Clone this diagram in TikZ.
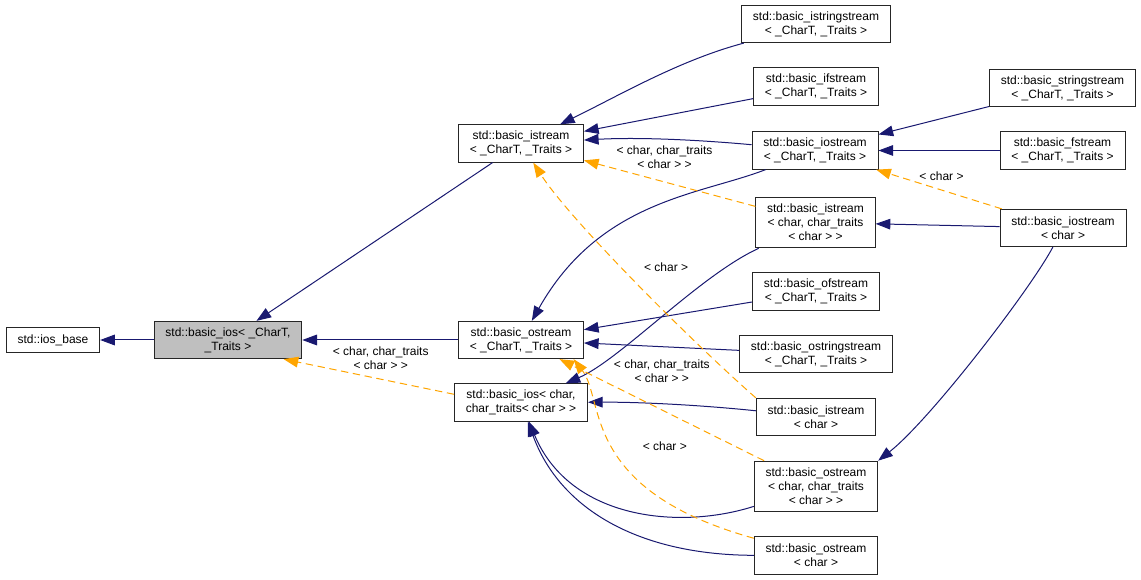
\documentclass[tikz,border=0pt]{standalone}
\usepackage{fontspec}
\usepackage{tikz}
\usetikzlibrary{arrows.meta}
\newfontfamily\doxsans{Liberation Sans}
\newcommand{\doxfont}{\doxsans\fontsize{9}{10.5}\selectfont}
\definecolor{edgeblue}{HTML}{191970}
\definecolor{tmplorange}{HTML}{FFA500}
\definecolor{basegray}{HTML}{BFBFBF}

\begin{document}
\begin{tikzpicture}[x=0.75pt, y=0.75pt,
    cls/.style={draw=black!85, line width=0.7pt, align=center, font=\doxfont, inner xsep=8.5pt, inner ysep=1pt, minimum height=28pt},
    cls1/.style={cls, minimum height=18.75pt},
    cls3/.style={cls, minimum height=38pt},
    inh/.style={draw=edgeblue, line width=0.75pt, -{Triangle[length=11pt,width=8pt]}},
    tmpl/.style={draw=tmplorange, line width=0.75pt, dash pattern=on 5.5pt off 3.5pt, -{Triangle[length=11pt,width=8pt]}},
    lbl/.style={font=\doxfont, align=center, inner sep=1pt, text=black}]
    \useasboundingbox (0,0) rectangle (1141,-580);

    \node[cls1] (iosbase) at (53,-340) {std::ios\_base};
    \node[cls, fill=basegray] (iosT) at (228,-340) {std::basic\_ios< \_CharT,\\ \_Traits >};
    \node[cls] (istreamT) at (521,-143.5) {std::basic\_istream\\< \_CharT, \_Traits >};
    \node[cls] (ostreamT) at (521,-340) {std::basic\_ostream\\< \_CharT, \_Traits >};
    \node[cls] (iosC) at (521,-402.5) {std::basic\_ios< char,\\char\_traits< char > >};
    \node[cls] (istrs) at (816,-24) {std::basic\_istringstream\\< \_CharT, \_Traits >};
    \node[cls] (ifstr) at (816,-86.5) {std::basic\_ifstream\\< \_CharT, \_Traits >};
    \node[cls] (iostreamT) at (815,-150.5) {std::basic\_iostream\\< \_CharT, \_Traits >};
    \node[cls3] (istreamCC) at (815.5,-222.5) {std::basic\_istream\\< char, char\_traits\\< char > >};
    \node[cls] (ofstr) at (816,-291.5) {std::basic\_ofstream\\< \_CharT, \_Traits >};
    \node[cls] (ostrs) at (816,-354) {std::basic\_ostringstream\\< \_CharT, \_Traits >};
    \node[cls] (istreamC) at (816,-417) {std::basic\_istream\\< char >};
    \node[cls3] (ostreamCC) at (816,-486.5) {std::basic\_ostream\\< char, char\_traits\\< char > >};
    \node[cls] (ostreamC) at (816,-555.5) {std::basic\_ostream\\< char >};
    \node[cls] (sstr) at (1062.5,-88) {std::basic\_stringstream\\< \_CharT, \_Traits >};
    \node[cls] (fstr) at (1062.5,-150.5) {std::basic\_fstream\\< \_CharT, \_Traits >};
    \node[cls] (iostreamC) at (1063,-228) {std::basic\_iostream\\< char >};

    \draw[inh] (iosT) -- (iosbase);
    \draw[inh] (istreamT) -- (iosT);
    \draw[inh] (ostreamT) -- (iosT);
    \draw[inh] (istrs) .. controls (680,-60) and (620,-95) .. (istreamT);
    \draw[inh] (ifstr) -- (istreamT);
    \draw[inh] (iostreamT) .. controls (700,-140) and (640,-137) .. (istreamT);
    \draw[inh] (iostreamT) .. controls (700,-195) and (600,-200) .. (ostreamT);
    \draw[inh] (ofstr) -- (ostreamT);
    \draw[inh] (ostrs) -- (ostreamT);
    \draw[inh] (sstr) -- (iostreamT);
    \draw[inh] (fstr) -- (iostreamT);
    \draw[inh] (iostreamC) -- (istreamCC);
    \draw[inh] (iostreamC) .. controls (1030,-290) and (930,-420) .. (ostreamCC.north east);
    \draw[inh] (istreamCC) .. controls (700,-275) and (620,-360) .. (iosC);
    \draw[inh] (istreamC) .. controls (700,-405) and (640,-402) .. (iosC);
    \draw[inh] (ostreamCC) .. controls (680,-530) and (570,-520) .. (iosC);
    \draw[inh] (ostreamC) .. controls (640,-555) and (560,-510) .. (iosC);

   \begin{scope}[tmpl]
    \draw (iosC.173) -- node[lbl, pos=0.43, above=6pt] (l1) {< char, char\_traits\\< char > >} (iosT.341);
    \draw (istreamCC) -- node[lbl, pos=0.53, above=9pt] (l2) {< char, char\_traits\\< char > >} (istreamT);
    \draw (iostreamC) -- node[lbl, pos=0.48, above=6pt] (l3) {< char >} (iostreamT);
    \draw (istreamC.north west) .. controls (690,-340) and (570,-220) .. node[lbl, pos=0.55, right=16pt] (l4) {< char >} (istreamT);
    \draw (ostreamCC) -- node[lbl, pos=0.5, above=19pt] (l5) {< char, char\_traits\\< char > >} (ostreamT);
    \draw (ostreamC) .. controls (580,-490) and (605,-400) .. node[lbl, pos=0.5, right=23pt] (l6) {< char >} (ostreamT.-20);
   \end{scope}
\end{tikzpicture}
\end{document}
